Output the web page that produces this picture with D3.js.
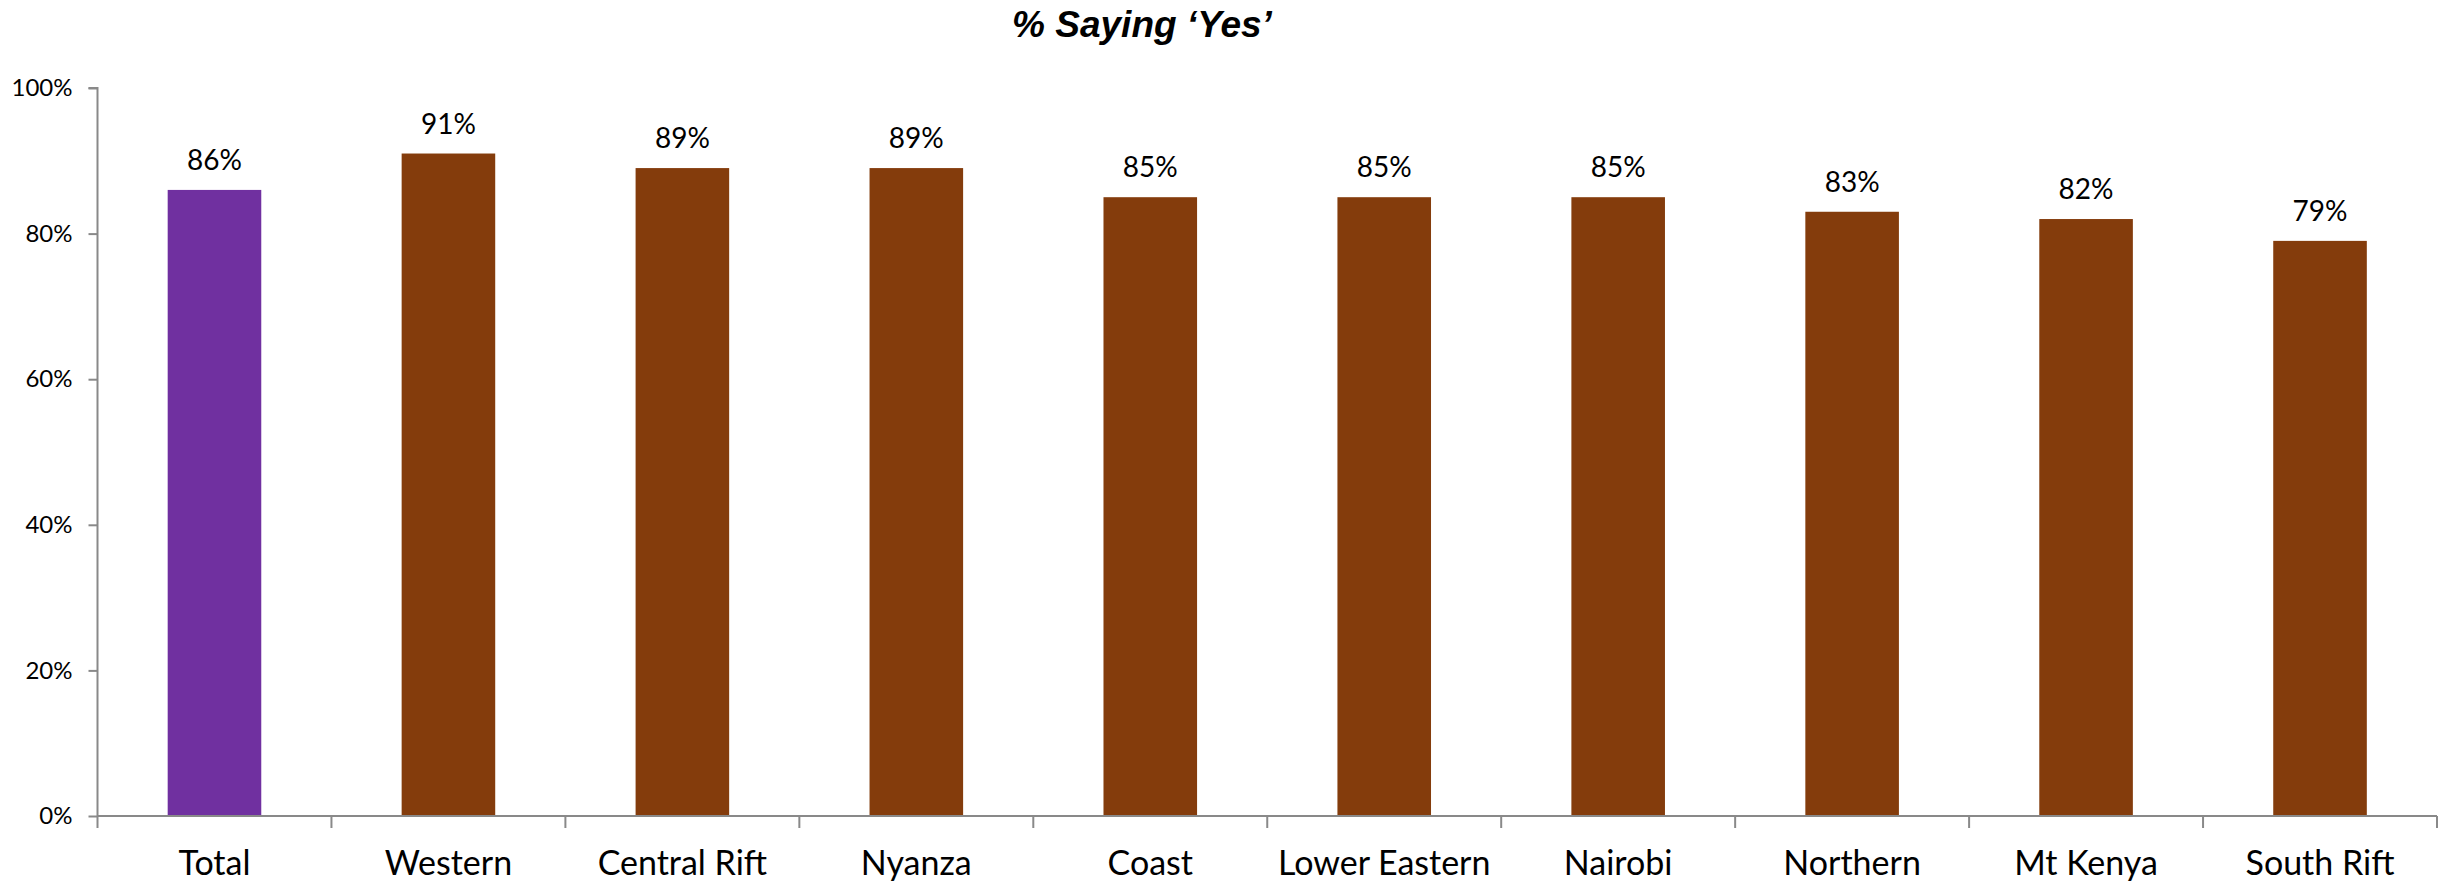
<!DOCTYPE html>
<html><head><meta charset="utf-8">
<script src="https://cdn.jsdelivr.net/npm/d3@7"></script>
<style>html,body{margin:0;padding:0;background:#fff;}svg{display:block;}</style>
</head><body>
<script>
const categories = ["Total","Western","Central Rift","Nyanza","Coast","Lower Eastern","Nairobi","Northern","Mt Kenya","South Rift"];
const values = [86,91,89,89,85,85,85,83,82,79];
const yTicks = [0,20,40,60,80,100];
const titleText = "% Saying \u2018Yes\u2019";

const W = 2451, H = 884;
const margin = {left: 97.5, right: 14, top: 88, bottom: 68};
const svg = d3.select("body").append("svg").attr("width", W).attr("height", H);

const x = d3.scaleBand().domain(categories)
  .range([margin.left, W - margin.right])
  .paddingInner(0.6).paddingOuter(0.3);
const y = d3.scaleLinear().domain([0,100]).range([H - margin.bottom, margin.top]);
const step = x.step();
const font = "Lato, Carlito, Calibri, sans-serif";
const axisColor = "#898989";

// title
svg.append("text").attr("x", 1142).attr("y", 37)
  .attr("text-anchor","middle")
  .style("font-family","'Liberation Sans', Arial, sans-serif")
  .style("font-weight","bold").style("font-style","italic")
  .style("font-size","37px").attr("fill","#000").text(titleText);

// bars
svg.selectAll("rect.bar").data(categories).enter().append("rect")
  .attr("class","bar")
  .attr("x", d => x(d)).attr("width", x.bandwidth())
  .attr("y", (d,i) => y(values[i]))
  .attr("height", (d,i) => y(0) - y(values[i]))
  .attr("fill", (d,i) => i === 0 ? "#7030A0" : "#843C0C");

// value labels
svg.selectAll("text.val").data(categories).enter().append("text")
  .attr("class","val")
  .attr("x", d => x(d) + x.bandwidth()/2)
  .attr("y", (d,i) => y(values[i]) - 20)
  .attr("text-anchor","middle")
  .style("font-family", font).style("font-size","28px").attr("fill","#000")
  .text((d,i) => values[i] + "%");

// y axis
const yAxis = d3.axisLeft(y).tickValues(yTicks).tickFormat(d => d + "%").tickSize(9).tickPadding(16);
const gy = svg.append("g").attr("transform", `translate(${margin.left},0)`).call(yAxis);
gy.select(".domain").attr("stroke", axisColor).attr("stroke-width", 2)
  .attr("d", `M-9,${y(100)}H0V${y(0)}`);
gy.selectAll(".tick line").attr("stroke", axisColor).attr("stroke-width", 2);
gy.selectAll(".tick text").style("font-family", font).style("font-size","24px").attr("fill","#000");

// x axis line + boundary ticks
const gx = svg.append("g");
gx.append("line").attr("x1", margin.left).attr("x2", W - margin.right)
  .attr("y1", y(0)).attr("y2", y(0)).attr("stroke", axisColor).attr("stroke-width", 2);
const bounds = d3.range(categories.length + 1).map(i => margin.left + i*step);
gx.selectAll("line.xt").data(bounds).enter().append("line").attr("class","xt")
  .attr("x1", d => d).attr("x2", d => d)
  .attr("y1", y(0)).attr("y2", y(0) + 12)
  .attr("stroke", axisColor).attr("stroke-width", 2);
gx.selectAll("text.cat").data(categories).enter().append("text").attr("class","cat")
  .attr("x", d => x(d) + x.bandwidth()/2).attr("y", 875)
  .attr("text-anchor","middle")
  .style("font-family", font).style("font-size","34px").attr("fill","#000")
  .text(d => d);
</script>
</body></html>
